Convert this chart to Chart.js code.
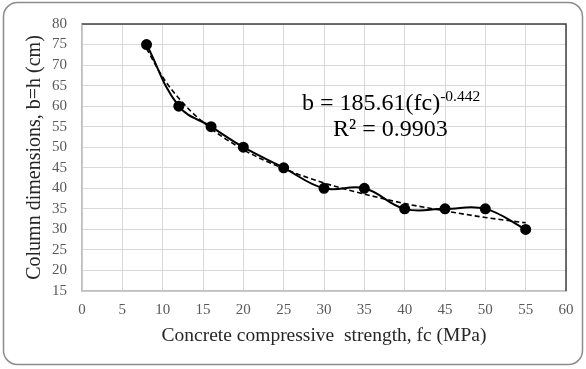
<!DOCTYPE html>
<html>
<head>
<meta charset="utf-8">
<script src="https://cdn.jsdelivr.net/npm/chart.js@4.4.1/dist/chart.umd.min.js"></script>
<style>
    html, body { margin: 0; padding: 0; background: #ffffff; }
    #wrap { width: 586px; height: 369px; position: relative; }
</style>
</head>
<body>
<div id="wrap"><canvas id="chart"></canvas></div>
<script>
// measured points: strength fc (MPa) vs column size b=h (cm)
const strengthFc = [8, 12, 16, 20, 25, 30, 35, 40, 45, 50, 55];
const columnSize = [75, 60, 55, 50, 45, 40, 40, 35, 35, 35, 30];

// dashed power trend line
const trendFc = [8, 10, 12, 15, 20, 25, 30, 35, 40, 45, 50, 55];
const trendSize = [74.0, 67.1, 61.9, 56.1, 49.4, 44.8, 41.3, 38.6, 36.3, 34.5, 32.9, 31.6];

const xTicks = [0, 5, 10, 15, 20, 25, 30, 35, 40, 45, 50, 55, 60];
const yTicks = [15, 20, 25, 30, 35, 40, 45, 50, 55, 60, 65, 70, 75, 80];

const fitLabel = 'b = 185.61(fc)';
const fitPower = '-0.442';
const fitR2 = 'R² = 0.9903';

const serif = 'Liberation Serif';

// outer rounded frame + plot-area border (top / right) + equation text
const framePlugin = {
    id: 'frame',
    beforeDraw(chart) {
        const ctx = chart.ctx;
        ctx.save();
        ctx.fillStyle = '#ffffff';
        ctx.fillRect(0, 0, chart.width, chart.height);
        ctx.strokeStyle = '#8c8c8c';
        ctx.lineWidth = 1.5;
        ctx.beginPath();
        ctx.roundRect(3.5, 2.5, 579, 362, 14);
        ctx.stroke();
        ctx.restore();
    },
    afterDraw(chart) {
        const ctx = chart.ctx;
        const a = chart.chartArea;
        ctx.save();
        ctx.strokeStyle = '#404040';
        ctx.lineWidth = 1.5;
        ctx.beginPath();
        ctx.moveTo(a.left, a.top);
        ctx.lineTo(a.right, a.top);
        ctx.lineTo(a.right, a.bottom);
        ctx.stroke();

        // trend equation
        ctx.fillStyle = '#000000';
        ctx.textBaseline = 'alphabetic';
        ctx.font = '24px "' + serif + '"';
        const x0 = a.left + 220;
        ctx.fillText(fitLabel, x0, 110);
        const w = ctx.measureText(fitLabel).width;
        ctx.font = '15.5px "' + serif + '"';
        ctx.fillText(fitPower, x0 + w, 101);
        ctx.font = '24px "' + serif + '"';
        ctx.fillText(fitR2, x0 + 31, 136);
        ctx.restore();
    }
};

new Chart(document.getElementById('chart'), {
    type: 'scatter',
    data: {
        datasets: [
            {
                label: 'data',
                data: strengthFc.map((x, i) => ({ x: x, y: columnSize[i] })),
                showLine: true,
                tension: 0.4,
                borderColor: '#000000',
                borderWidth: 2,
                pointRadius: 4.5,
                pointBackgroundColor: '#000000',
                pointBorderColor: '#000000',
                order: 1
            },
            {
                label: 'trend',
                data: trendFc.map((x, i) => ({ x: x, y: trendSize[i] })),
                showLine: true,
                cubicInterpolationMode: 'monotone',
                borderColor: '#000000',
                borderWidth: 1.6,
                borderDash: [5, 3],
                pointRadius: 0,
                order: 2
            }
        ]
    },
    options: {
        responsive: true,
        maintainAspectRatio: false,
        animation: false,
        layout: {
            padding: { left: 0, right: 20, top: 17, bottom: 0 }
        },
        plugins: {
            legend: { display: false },
            tooltip: { enabled: false }
        },
        scales: {
            x: {
                type: 'linear',
                min: 0,
                max: 60,
                afterBuildTicks(scale) {
                    scale.ticks = xTicks.map(v => ({ value: v }));
                },
                afterFit(scale) {
                    scale.height = 78;
                },
                grid: {
                    color: '#d9d9d9',
                    lineWidth: 1,
                    drawTicks: false
                },
                border: { color: '#bfbfbf', width: 1.5 },
                ticks: {
                    color: '#595959',
                    padding: 10,
                    autoSkip: false,
                    maxRotation: 0,
                    font: { family: serif, size: 15 }
                },
                title: {
                    display: true,
                    text: 'Concrete compressive  strength, fc (MPa)',
                    color: '#262626',
                    font: { family: serif, size: 19.5 },
                    padding: { top: 0, bottom: 21 }
                }
            },
            y: {
                type: 'linear',
                min: 15,
                max: 80,
                afterBuildTicks(scale) {
                    scale.ticks = yTicks.map(v => ({ value: v }));
                },
                afterFit(scale) {
                    scale.width = 82;
                },
                grid: {
                    color: '#d9d9d9',
                    lineWidth: 1,
                    drawTicks: false
                },
                border: { color: '#bfbfbf', width: 1.5 },
                ticks: {
                    color: '#595959',
                    padding: 15,
                    autoSkip: false,
                    font: { family: serif, size: 15 }
                },
                title: {
                    display: true,
                    text: 'Column dimensions, b=h (cm)',
                    color: '#262626',
                    font: { family: serif, size: 20 },
                    padding: { top: 23, bottom: 0 }
                }
            }
        }
    },
    plugins: [framePlugin]
});
</script>
</body>
</html>
